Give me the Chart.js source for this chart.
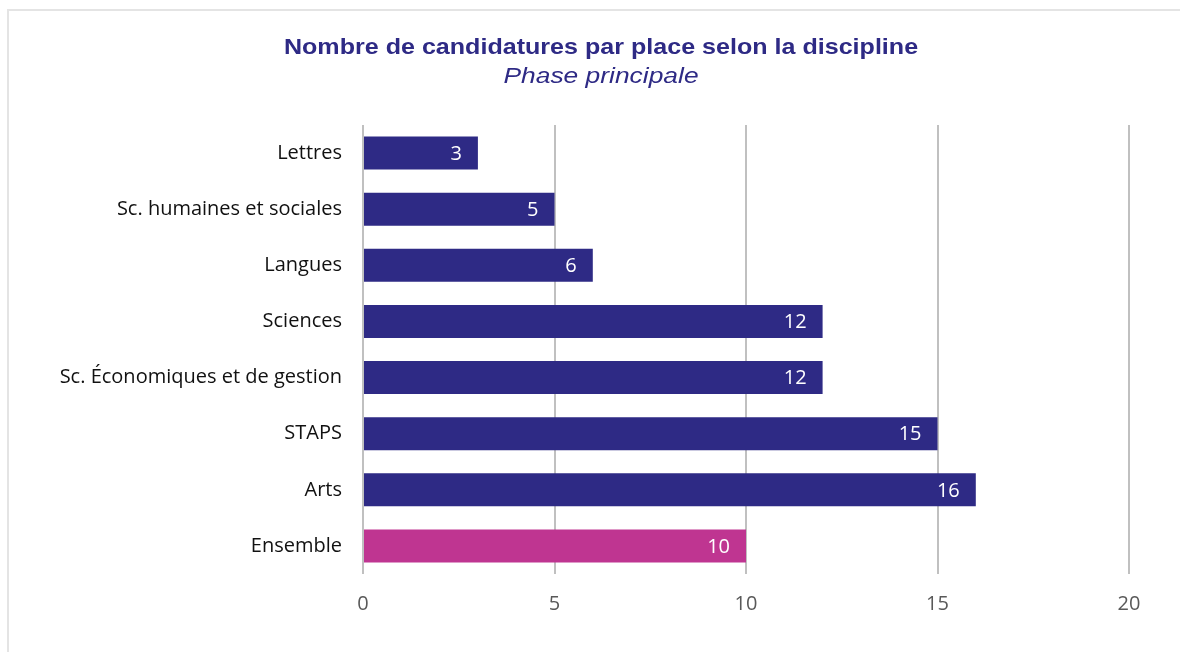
<!DOCTYPE html>
<html>
<head>
<meta charset="utf-8">
<script src="https://cdn.jsdelivr.net/npm/chart.js@4/dist/chart.umd.min.js"></script>
<style>
  body { margin: 0; background: #fff; overflow: hidden; }
  .frame { position: absolute; left: 7px; top: 9px; width: 1200px; height: 700px; border: 2px solid #e4e4e4; }
  .wrap { position: absolute; left: 0; top: 0; width: 1180px; height: 652px; }
</style>
</head>
<body>
<div class="frame"></div>
<div class="wrap"><canvas id="chart"></canvas></div>
<script>
const categories = ["Lettres", "Sc. humaines et sociales", "Langues", "Sciences", "Sc. Économiques et de gestion", "STAPS", "Arts", "Ensemble"];
const values = [3, 5, 6, 12, 12, 15, 16, 10];
const x_ticks = [0, 5, 10, 15, 20];
const title_text = "Nombre de candidatures par place selon la discipline";
const subtitle_text = "Phase principale";

const main_color = "#2e2a85";
const total_color = "#bf3591";
const bar_colors = categories.map(c => c === "Ensemble" ? total_color : main_color);

const ctx = document.getElementById("chart").getContext("2d");

// white value written inside the end of each bar
const valueLabels = {
    id: "valueLabels",
    afterDatasetsDraw(chart){
        const c = chart.ctx;
        const meta = chart.getDatasetMeta(0);
        c.save();
        c.fillStyle = "#ffffff";
        c.font = "20px 'Open Sans'";
        c.textAlign = "right";
        c.textBaseline = "middle";
        meta.data.forEach((bar, i) => {
            c.fillText(values[i], bar.x - 16, bar.y + 1);
        });
        c.restore();
    }
};

// title + subtitle, the original lettering is a bit wider than Arial
const headings = {
    id: "headings",
    afterDraw(chart){
        const c = chart.ctx;
        const cx = 601;
        c.save();
        c.fillStyle = "#2e2a85";
        c.textAlign = "center";
        c.textBaseline = "alphabetic";
        c.translate(cx, 0);
        c.scale(1.14, 1);
        c.font = "bold 22px 'Liberation Sans', Arial";
        c.fillText(title_text, 0, 54);
        c.restore();
        c.save();
        c.fillStyle = "#2e2a85";
        c.textAlign = "center";
        c.textBaseline = "alphabetic";
        c.translate(cx, 0);
        c.scale(1.2, 1);
        c.font = "italic 22px 'Liberation Sans', Arial";
        c.fillText(subtitle_text, 0, 83);
        c.restore();
    }
};

new Chart(ctx, {
    type: "bar",
    data: {
        labels: categories,
        datasets: [{
            data: values,
            backgroundColor: bar_colors,
            categoryPercentage: 1,
            barPercentage: 0.59
        }]
    },
    options: {
        indexAxis: "y",
        responsive: true,
        maintainAspectRatio: false,
        animation: false,
        layout: { padding: { top: 125, bottom: 36, left: 0, right: 51 } },
        plugins: {
            legend: { display: false },
            tooltip: { enabled: false }
        },
        scales: {
            x: {
                min: 0,
                max: 20,
                afterBuildTicks: s => { s.ticks = x_ticks.map(v => ({ value: v })); },
                afterFit: s => { s.height = 42; },
                grid: { color: "#c0c0c0", lineWidth: 2, drawTicks: false },
                border: { display: false },
                ticks: {
                    color: "#595959",
                    padding: 18,
                    font: { family: "'Open Sans'", size: 20 }
                }
            },
            y: {
                afterFit: s => { s.width = 363; },
                grid: { display: false, drawTicks: false },
                border: { display: false },
                ticks: {
                    color: "#111111",
                    padding: 21,
                    font: { family: "'Open Sans'", size: 20 }
                }
            }
        }
    },
    plugins: [valueLabels, headings]
});
</script>
</body>
</html>
